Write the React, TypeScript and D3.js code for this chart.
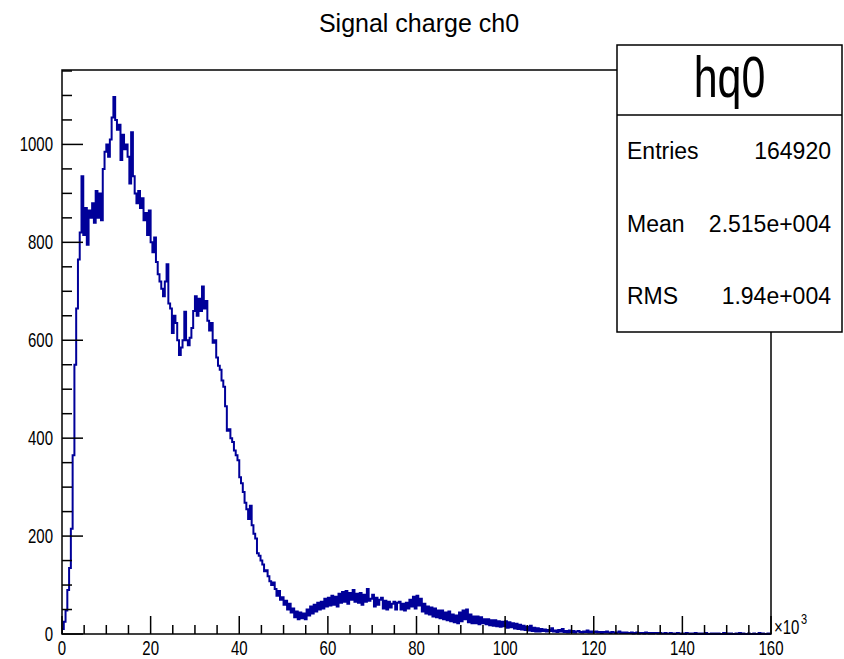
import React from "react";
import * as d3 from "d3";

// ---- Data ----
const title = "Signal charge ch0";
const histName = "hq0";
const xMin = 0; // x10^3
const xMax = 160; // x10^3
const binWidth = 0.4; // x10^3
const yMax = 1152;

// bin contents, 400 bins of 0.4k from 0 to 160k
const counts = [
  10, 25, 48, 90, 135, 215, 365, 550, 665, 765,
  820, 935, 815, 870, 795, 865, 850, 880, 840, 905,
  850, 900, 845, 950, 985, 1000, 975, 1010, 1055, 1097,
  1050, 1030, 1040, 968, 1020, 990, 1000, 975, 920, 1025,
  935, 900, 880, 905, 870, 890, 845, 860, 815, 865,
  800, 780, 810, 760, 735, 720, 705, 690, 720, 755,
  675, 665, 615, 650, 635, 600, 570, 585, 600, 658,
  600, 590, 605, 625, 660, 690, 650, 685, 660, 710,
  665, 680, 640, 620, 635, 595, 600, 565, 548, 540,
  518, 505, 465, 415, 418, 400, 392, 375, 365, 355,
  320, 308, 290, 268, 255, 235, 262, 222, 205, 195,
  165, 160, 150, 142, 128, 130, 118, 108, 100, 105,
  92, 78, 88, 70, 75, 60, 68, 50, 62, 44,
  52, 34, 46, 30, 44, 32, 42, 30, 50, 38,
  56, 42, 60, 46, 64, 50, 66, 52, 72, 56,
  74, 58, 78, 60, 76, 56, 82, 64, 86, 66,
  88, 62, 84, 70, 90, 66, 82, 64, 84, 60,
  80, 66, 92, 68, 72, 80, 56, 74, 60, 70,
  74, 52, 68, 50, 66, 54, 62, 66, 50, 64,
  66, 50, 62, 48, 64, 52, 70, 56, 76, 52,
  78, 58, 72, 46, 62, 42, 56, 40, 54, 36,
  52, 34, 48, 32, 48, 30, 44, 28, 46, 26,
  40, 24, 38, 22, 44, 26, 48, 30, 50, 24,
  40, 22, 36, 22, 36, 20, 34, 22, 30, 20,
  30, 18, 28, 17, 28, 16, 26, 15, 25, 16,
  26, 13, 24, 14, 22, 11, 21, 10, 19, 9,
  17, 8, 15, 7, 17, 6, 13, 5, 12, 5,
  10, 6, 9, 5, 8, 6, 12, 5, 7, 4,
  8, 5, 10, 4, 6, 3, 7, 4, 6, 3,
  5, 6, 4, 3, 5, 4, 7, 3, 5, 3,
  4, 5, 3, 4, 2, 4, 3, 5, 3, 2,
  4, 3, 2, 3, 5, 2, 3, 2, 3, 2,
  2, 3, 1, 2, 3, 1, 2, 2, 1, 3,
  2, 1, 2, 1, 2, 2, 1, 2, 1, 1,
  2, 1, 1, 2, 1, 0, 1, 2, 1, 0,
  1, 0, 2, 1, 0, 1, 0, 2, 0, 1,
  0, 1, 0, 2, 0, 0, 1, 0, 1, 0,
  1, 0, 0, 2, 0, 1, 0, 1, 0, 0,
  1, 0, 2, 0, 1, 0, 0, 1, 0, 0,
  1, 0, 0, 2, 0, 1, 0, 0, 1, 0,
];

const xMajorTicks = [0, 20, 40, 60, 80, 100, 120, 140, 160];
const yMajorTicks = [0, 200, 400, 600, 800, 1000];
const statNames = ["Entries", "Mean", "RMS"];
const statValues = ["164920", "2.515e+004", "1.94e+004"];

const FONT = "'Liberation Sans', Arial, Helvetica, sans-serif";

export default function App() {
  const W = 844;
  const H = 659;
  const left = 62;
  const right = 771;
  const top = 70;
  const bottom = 634;

  const x = d3.scaleLinear().domain([xMin, xMax]).range([left, right]);
  const y = d3.scaleLinear().domain([0, yMax]).range([bottom, top]);

  const pts: [number, number][] = [[xMin, 0]];
  counts.forEach((c, i) => pts.push([xMin + i * binWidth, c]));
  pts.push([xMin + counts.length * binWidth, counts[counts.length - 1]]);
  const line = d3
    .line<[number, number]>()
    .x((d) => x(d[0]))
    .y((d) => y(d[1]))
    .curve(d3.curveStepAfter);

  const yMinor = d3.range(0, yMax, 50);
  const xMinor = d3.range(xMin, xMax + 0.001, 5);

  const box = { x0: 617, x1: 842, y0: 45, y1: 332, div: 115 };
  const rowH = (box.y1 - box.div) / statNames.length;

  return (
    <svg
      width={W}
      height={H}
      style={{ position: "absolute", left: 0, top: 0, background: "#fff" }}
      fontFamily={FONT}
    >
      <rect x={0} y={0} width={W} height={H} fill="#fff" />
      <defs>
        <clipPath id="frameclip">
          <rect x={left} y={top} width={right - left} height={bottom - top + 1} />
        </clipPath>
      </defs>

      {/* title */}
      <text x={419} y={32} textAnchor="middle" fontSize={25} fill="#000">
        {title}
      </text>

      {/* histogram */}
      <path
        d={line(pts) || ""}
        fill="none"
        stroke="#000099"
        strokeWidth={2}
        clipPath="url(#frameclip)"
      />

      {/* frame */}
      <rect
        x={left}
        y={top}
        width={right - left}
        height={bottom - top}
        fill="none"
        stroke="#000"
        strokeWidth={1.5}
      />

      {/* y ticks */}
      {yMinor.map((v) => {
        const major = v % 200 === 0;
        return (
          <line
            key={"ym" + v}
            x1={left}
            x2={left + (major ? 21 : 10)}
            y1={y(v)}
            y2={y(v)}
            stroke="#000"
            strokeWidth={1.5}
          />
        );
      })}
      {yMajorTicks.map((v) => (
        <text
          key={"yl" + v}
          transform={`translate(53, ${y(v) + 7}) scale(1, 1.35)`}
          textAnchor="end"
          fontSize={15}
          fill="#000"
        >
          {v}
        </text>
      ))}

      {/* x ticks */}
      {xMinor.map((v) => {
        const major = v % 20 === 0;
        return (
          <line
            key={"xm" + v}
            x1={x(v)}
            x2={x(v)}
            y1={bottom}
            y2={bottom - (major ? 18 : 9)}
            stroke="#000"
            strokeWidth={1.5}
          />
        );
      })}
      {xMajorTicks.map((v) => (
        <text
          key={"xl" + v}
          transform={`translate(${x(v)}, 655) scale(1, 1.35)`}
          textAnchor="middle"
          fontSize={15}
          fill="#000"
        >
          {v}
        </text>
      ))}
      <text transform={`translate(774, 634) scale(1, 1.35)`} fontSize={15} fill="#000">
        ×10
      </text>
      <text transform={`translate(801, 624) scale(1, 1.35)`} fontSize={11} fill="#000">
        3
      </text>

      {/* stats box */}
      <rect
        x={box.x0}
        y={box.y0}
        width={box.x1 - box.x0}
        height={box.y1 - box.y0}
        fill="#fff"
        stroke="#000"
        strokeWidth={1.5}
      />
      <line x1={box.x0} x2={box.x1} y1={box.div} y2={box.div} stroke="#000" strokeWidth={1.5} />
      <text
        transform={`translate(${(box.x0 + box.x1) / 2}, 97) scale(1, 1.33)`}
        textAnchor="middle"
        fontSize={43}
        fill="#000"
      >
        {histName}
      </text>
      {statNames.map((n, i) => {
        const cy = box.div + rowH * (i + 0.5) + 8;
        return (
          <g key={n}>
            <text x={627} y={cy} fontSize={23} fill="#000">
              {n}
            </text>
            <text x={831} y={cy} fontSize={23} textAnchor="end" fill="#000">
              {statValues[i]}
            </text>
          </g>
        );
      })}
    </svg>
  );
}
